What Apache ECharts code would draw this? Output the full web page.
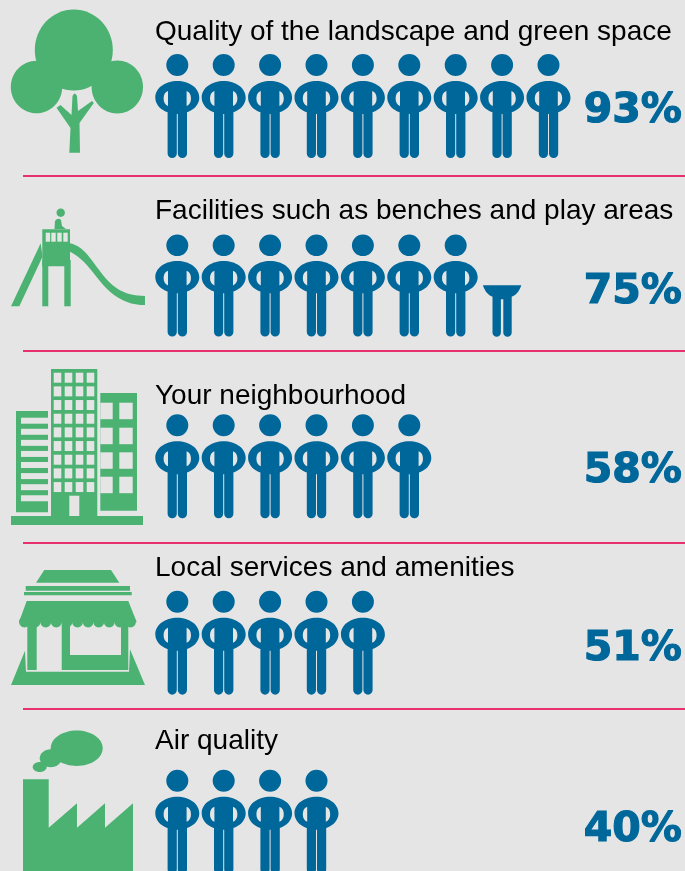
<!DOCTYPE html>
<html>
<head>
<meta charset="utf-8">
<style>html,body{margin:0;padding:0;background:#e5e5e5}#main{width:685px;height:871px}</style>
<script src="https://cdn.jsdelivr.net/npm/echarts@6/dist/echarts.min.js"></script>
</head>
<body>
<div id="main"></div>
<script>
const categories = [
    'Quality of the landscape and green space',
    'Facilities such as benches and play areas',
    'Your neighbourhood',
    'Local services and amenities',
    'Air quality'
];
const percentLabels = ['93%', '75%', '58%', '51%', '40%'];
// one person = 10%, as drawn in the picture
const wholePeople = [9, 7, 6, 5, 4];
const halfPeople = [0, 1, 0, 0, 0];

const BLUE = '#00679a';
const GREEN = '#4bb272';
const PINK = '#e9316e';
const BG = '#e5e5e5';

const rowTops = [54, 234.5, 414.3, 590.7, 772.5];
const rowHeights = [104, 102, 104, 104, 104];
const titleTops = [18, 197, 382, 554, 727];
const percentTops = [91, 272, 451, 629, 810];
const ruleYs = [176, 351, 543, 709];

const personPath = 'path://M22 0A11 11 0 1 1 22 22A11 11 0 1 1 22 0Z' +
    'M0 43.5C0 34 10 27 22 27C34 27 44 34 44 43.5C44 53 34 60 22 60C10 60 0 53 0 43.5Z' +
    'M12.7 37C10 38 8.3 40.5 8.3 44.5C8.3 48.5 10 51 12.7 52Z' +
    'M31.3 37L31.3 52C34 51 35.7 48.5 35.7 44.5C35.7 40.5 34 38 31.3 37Z' +
    'M12.3 58L21.5 58L21.5 99.5A4.6 4.6 0 0 1 12.3 99.5Z' +
    'M22.5 58L31.7 58L31.7 99.5A4.6 4.6 0 0 1 22.5 99.5Z';
const halfPath = 'path://M0 0L38.4 0C36.5 6 33 10 28.8 11.5L28.8 47.5A4.2 4.2 0 0 1 20.4 47.5L20.4 14L18 14L18 47.5A4.2 4.2 0 0 1 9.6 47.5L9.6 11.5C5.4 10 1.9 6 0 0Z';

// the graphic component has no plain path type, register the curved icon parts as shapes
echarts.graphic.registerShape('treeTrunk', echarts.graphic.extendPath(
    'M69.3 152.7L70.5 128L56.5 107.8L60.5 105L71.5 115L72.5 96Q74.7 91 77 96L78 111L92 101L93.8 103L79.5 123L80 152.7Z', {}));
echarts.graphic.registerShape('slideChute', echarts.graphic.extendPath(
    'M70 243.3C78 245 84 250 90 258C98 268 106 281 116.7 288.3C125 294 135 296 145 296L145 305C132 305 122 301.5 110 291.7C100 283 92 270 84 262C79 257 75 254 70 251.7Z', {}));
echarts.graphic.registerShape('slideKid', echarts.graphic.extendPath(
    'M54.5 229L55 221Q58 217 61 220L62 226L66 229Z', {}));

function rect(x, y, w, h, color) {
    return { type: 'rect', shape: { x: x, y: y, width: w, height: h }, style: { fill: color || GREEN }, silent: true };
}
function poly(points, color) {
    return { type: 'polygon', shape: { points: points }, style: { fill: color || GREEN }, silent: true };
}
function ell(cx, cy, rx, ry) {
    return { type: 'ellipse', shape: { cx: cx, cy: cy, rx: rx, ry: ry }, style: { fill: GREEN }, silent: true };
}
function shape(name) {
    return { type: name, style: { fill: GREEN }, silent: true };
}

function treeIcon() {
    return [
        ell(73.8, 50, 39, 40.5),
        ell(36.5, 87, 25.7, 26.3),
        ell(117.3, 87, 25.7, 26.5),
        shape('treeTrunk')
    ];
}
function slideIcon() {
    const els = [
        ell(60.7, 212.7, 4.2, 4.2),
        shape('slideKid'),
        rect(42.3, 229.3, 27.7, 37),
        rect(42.3, 260, 6, 46.3),
        rect(64.3, 260, 6.4, 46.3),
        poly([[40.7, 243.3], [42.5, 256.7], [19.3, 306.3], [11, 306.3]]),
        shape('slideChute')
    ];
    [45.7, 51.3, 57.3, 63.3].forEach(function (x) {
        els.push(rect(x, 232.7, 4.4, 9, BG));
    });
    return els;
}
function buildingIcon() {
    const els = [
        rect(11, 516, 132, 9),
        rect(51, 369, 46.3, 147),
        rect(69.3, 495.7, 10, 20.3, BG),
        rect(16, 411, 32, 101.3),
        rect(100.3, 393, 36.7, 117.7)
    ];
    [53.7, 64.7, 75.7, 86.7].forEach(function (x) {
        for (let r = 0; r < 9; r++) {
            els.push(rect(x, 372.7 + r * 13.67, 7.6, 10, BG));
        }
    });
    for (let r = 0; r < 8; r++) {
        els.push(rect(21, 417.7 + r * 11.08, 27, 6, BG));
    }
    [402.7, 427.7, 452.3, 476.7].forEach(function (y) {
        els.push(rect(100.3, y, 12.4, 16.5, BG));
        els.push(rect(119.3, y, 13.4, 16.5, BG));
    });
    return els;
}
function shopIcon() {
    const els = [
        poly([[44.3, 570], [111, 570], [119.3, 582.7], [36, 582.7]]),
        rect(25.7, 586, 104.3, 4.7),
        rect(24, 592, 107.7, 3.3),
        rect(27.3, 620, 101, 50),
        rect(36.7, 620, 25, 50, BG),
        rect(70, 620, 51, 35, BG),
        poly([[26.7, 601], [128.3, 601], [136.7, 622], [19, 622]])
    ];
    for (let i = 0; i < 11; i++) {
        els.push(ell(24.5 + i * 10.6, 622, 5.4, 5.4));
    }
    els.push(poly([[25, 650.7], [26, 671.7], [129, 671.7], [130, 649.3], [145, 685], [11, 685]]));
    return els;
}
function factoryIcon() {
    return [
        ell(76.7, 748.3, 26, 17.7),
        ell(50.7, 758.3, 11, 9),
        ell(39.7, 767, 7, 5),
        poly([[23, 779.3], [48.7, 779.3], [48.7, 827.7], [77, 803.3], [77, 827.7], [105, 803.3], [105, 827.7], [133, 803.3], [133, 871], [23, 871]])
    ];
}

const grids = [], xAxes = [], yAxes = [], series = [], titles = [];
categories.forEach(function (name, i) {
    grids.push({ left: 154.1, width: 464, top: rowTops[i], height: rowHeights[i] });
    xAxes.push({ gridIndex: i, type: 'value', min: 0, max: 10, show: false });
    yAxes.push({ gridIndex: i, type: 'value', min: 0, max: 1, show: false });

    const whole = [];
    for (let k = 0; k < wholePeople[i]; k++) whole.push([k + 0.5, 0.5]);
    series.push({
        type: 'scatter',
        name: name,
        xAxisIndex: i,
        yAxisIndex: i,
        symbol: personPath,
        symbolSize: [44, rowHeights[i]],
        itemStyle: { color: BLUE, opacity: 1 },
        silent: true,
        clip: false,
        data: whole
    });
    if (halfPeople[i]) {
        series.push({
            type: 'scatter',
            xAxisIndex: i,
            yAxisIndex: i,
            symbol: halfPath,
            symbolSize: [38.4, 51.7],
            symbolOffset: [0, 25.5],
            itemStyle: { color: BLUE, opacity: 1 },
            silent: true,
            clip: false,
            data: [[wholePeople[i] + 0.5, 0.5]]
        });
    }

    titles.push({
        text: name,
        left: 155,
        top: titleTops[i],
        padding: 0,
        textStyle: { fontFamily: '"Liberation Sans"', fontSize: 28, fontWeight: 'normal', color: '#000' }
    });
    titles.push({
        text: percentLabels[i],
        right: 2,
        top: percentTops[i],
        padding: 0,
        textStyle: { fontFamily: '"DejaVu Sans"', fontSize: 41, fontWeight: 'bold', color: BLUE, textBorderColor: BLUE, textBorderWidth: 1.2 }
    });
});

const rules = ruleYs.map(function (y) {
    return { type: 'rect', shape: { x: 23, y: y - 1, width: 662, height: 2 }, style: { fill: PINK }, silent: true };
});

const chart = echarts.init(document.getElementById('main'), null, { renderer: 'canvas' });
chart.setOption({
    backgroundColor: BG,
    animation: false,
    title: titles,
    grid: grids,
    xAxis: xAxes,
    yAxis: yAxes,
    series: series,
    graphic: {
        elements: rules.concat(treeIcon(), slideIcon(), buildingIcon(), shopIcon(), factoryIcon())
    }
});
</script>
</body>
</html>
